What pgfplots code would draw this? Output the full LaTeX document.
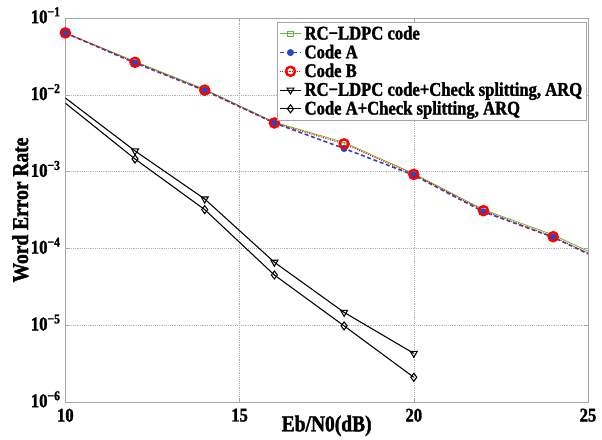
\documentclass[border=0pt]{standalone}
\usepackage{pgfplots}
\pgfplotsset{compat=1.18}
\usepackage{fontspec}
\setmainfont{Liberation Serif}
\newfontfamily\bnarrow[FakeStretch=0.86, FakeBold=1.6]{Liberation Serif Bold}
\definecolor{lgreen}{RGB}{90,190,60}
\definecolor{mblue}{RGB}{40,70,190}
\newcommand{\tck}{\bnarrow\fontsize{14.5}{16}\selectfont}
\newcommand{\lbl}{\bnarrow\fontsize{17}{19}\selectfont}
\newcommand{\leg}{\bnarrow\fontsize{14.5}{16}\selectfont}
\begin{document}
\begin{tikzpicture}
\path[use as bounding box] (-49pt,-28pt) rectangle (402.5pt,301.5pt);
\begin{axis}[
    width=392pt, height=288pt, scale only axis,
    xmin=10, xmax=25, ymin=1e-6, ymax=1e-1,
    ymode=log, log basis y=10,
    xtick={10,15,20,25}, xticklabels={10,15,20,25},
    ytick={1e-6,1e-5,1e-4,1e-3,1e-2,1e-1},
    yticklabels={10\textsuperscript{−6},10\textsuperscript{−5},10\textsuperscript{−4},10\textsuperscript{−3},10\textsuperscript{−2},10\textsuperscript{−1}},
    ticklabel style={font=\tck},
    xticklabel style={yshift=-1.5pt},
    yticklabel style={yshift=2pt},
    xlabel={Eb/N0(dB)}, ylabel={Word Error Rate},
    label style={font=\lbl},
    xlabel style={yshift=11.5pt}, ylabel style={yshift=-5pt},
    grid=both, yminorgrids=true, xminorgrids=false,
    major grid style={densely dotted, gray!60},
    minor grid style={densely dotted, gray!45},
    axis line style={gray!70},
    tick style={gray!70}, tick align=inside,
    major tick length=3pt, minor tick length=1.5pt,
    legend style={at={(0.997,0.99)}, anchor=north east, font=\leg,
        draw=gray!70, inner sep=1pt, row sep=-1.5pt, cells={anchor=west}},
    legend cell align=left,
    legend image post style={mark indices={2}},
    legend image code/.code={\draw[#1] plot coordinates {(0cm,0cm) (0.28cm,0cm) (0.56cm,0cm)};},
]
\addplot[lgreen, semithick, mark=square, mark size=2pt, mark indices={1,...,8}] coordinates {
(10,0.064) (12,0.0272) (14,0.0118) (16,0.0044) (18,0.0024) (20,0.00094) (22,0.00032) (24,0.000150) (25,0.000092)};
\addplot[mblue, very thick, dash pattern=on 3pt off 2pt, mark=*, mark size=2pt, mark options={solid}, mark indices={1,...,8}] coordinates {
(10,0.064) (12,0.0260) (14,0.0114) (16,0.0043) (18,0.0020) (20,0.00090) (22,0.00030) (24,0.000140) (25,0.000085)};
\addplot[red, thick, densely dotted, mark=o, mark size=3.4pt, mark options={solid, line width=1.8pt}, mark indices={1,...,8}] coordinates {
(10,0.064) (12,0.0265) (14,0.0115) (16,0.0043) (18,0.0023) (20,0.00092) (22,0.00031) (24,0.000142) (25,0.000087)};
\addplot[black, thick, mark=triangle, mark size=3pt, mark options={rotate=180, solid}, mark indices={2,...,6}] coordinates {
(10,0.0091) (12,0.00186) (14,0.00044) (16,6.6e-5) (18,1.47e-5) (20,4.3e-6)};
\addplot[black, thick, mark=diamond, mark size=3pt, mark indices={2,...,6}] coordinates {
(10,0.0078) (12,0.00146) (14,0.00032) (16,4.5e-5) (18,9.8e-6) (20,2.1e-6)};
\legend{RC−LDPC code, Code A, Code B, RC−LDPC code+Check splitting{,} ARQ, Code A+Check splitting{,} ARQ}
\end{axis}
\end{tikzpicture}
\end{document}
